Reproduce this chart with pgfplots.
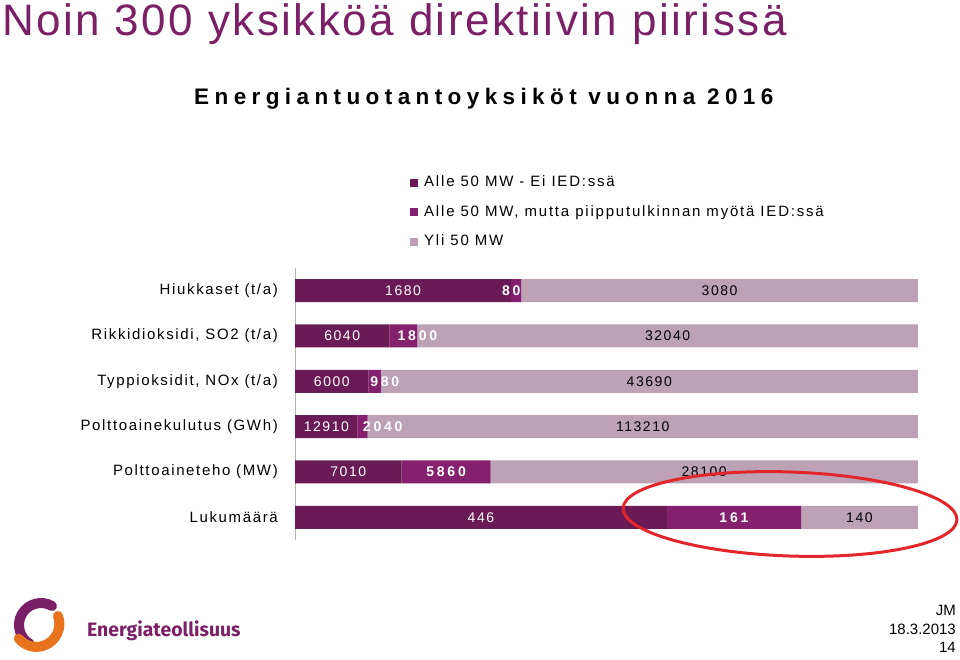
\documentclass[border=0pt]{standalone}
\usepackage{fontspec}
\setmainfont{Liberation Sans}
\newfontfamily\spaced[LetterSpace=11]{Liberation Sans}
\newfontfamily\legfont[LetterSpace=12]{Liberation Sans}
\newfontfamily\boldlab[LetterSpace=20]{Liberation Sans Bold}
\newfontfamily\titlefont[LetterSpace=5.7]{Liberation Sans}
\newfontfamily\subfont[LetterSpace=24]{Liberation Sans Bold}
\newfontfamily\logofont{Fira Sans}
\usepackage{pgfplots}
\pgfplotsset{compat=1.18}
\usepackage{pgfplotstable}

\definecolor{darkplum}{HTML}{6A1A55}
\definecolor{midplum}{HTML}{85206E}
\definecolor{lightplum}{HTML}{BDA2B5}
\definecolor{titleplum}{HTML}{7B1F66}
\definecolor{logoorange}{HTML}{E8731E}
\definecolor{ringred}{HTML}{E3262B}

% y: 0 = Lukumaara (bottom) ... 5 = Hiukkaset (top); dx nudges the middle labels (pt)
\pgfplotstableread{
y a     b    c      dx
0 446   161  140    0
1 7010  5860 28100  0
2 12910 2040 113210 20
3 6000  980  43690  10
4 6040  1800 32040  14
5 1680  80   3080   -5
}\units

\begin{document}
\begin{tikzpicture}[x=1pt,y=1pt]
\path[use as bounding box] (0,0) rectangle (960,660);

% titles
\node[anchor=base west, inner sep=0pt, text=titleplum] at (2,624)
  {\titlefont\fontsize{44}{50}\selectfont Noin 300 yksikköä direktiivin piirissä};
\node[anchor=base west, inner sep=0pt] at (194,555)
  {\subfont\fontsize{22.5}{26}\selectfont Energiantuotantoyksiköt vuonna 2016};

\begin{axis}[
  at={(295pt,120pt)}, anchor=south west,
  scale only axis, width=624pt, height=272pt,
  xbar stacked, bar width=23pt,
  xmin=0, xmax=1.002, ymin=-0.5, ymax=5.5,
  axis x line=none, axis y line*=left,
  y axis line style={draw=gray!60, line width=0.8pt},
  xtick=\empty, ytick={0,...,5},
  yticklabels={Lukumäärä, Polttoaineteho (MW), Polttoainekulutus (GWh),
    {Typpioksidit, NOx (t/a)}, {Rikkidioksidi, SO2 (t/a)}, Hiukkaset (t/a)},
  major tick length=0pt,
  yticklabel style={font=\spaced\fontsize{15}{17}\selectfont, inner sep=0pt, xshift=-17pt},
  point meta=explicit symbolic,
  nodes near coords={\pgfplotspointmeta},
  nodes near coords style={font=\spaced\fontsize{14}{16}\selectfont},
  legend style={draw=none, fill=none, at={(0.1843,1.340)}, anchor=north west,
    font=\legfont\fontsize{15}{17}\selectfont, row sep=15.5pt, inner sep=0pt,
    nodes={inner sep=0pt, text height=11pt, text depth=3pt},
    /tikz/column sep=6pt},
  legend cell align=left,
  legend image code/.code={\fill[#1] (0pt,-4pt) rectangle (8pt,4pt);},
]
\addplot[fill=darkplum, draw=none, nodes near coords style={text=white}]
  table[y=y, x expr={\thisrow{a}/(\thisrow{a}+\thisrow{b}+\thisrow{c})}, meta=a] {\units};
\addplot[fill=midplum, draw=none,
  visualization depends on={\thisrow{dx} \as \dx},
  nodes near coords style={text=white, font=\boldlab\fontsize{14}{16}\selectfont, xshift=\dx pt}]
  table[y=y, x expr={\thisrow{b}/(\thisrow{a}+\thisrow{b}+\thisrow{c})}, meta=b] {\units};
\addplot[fill=lightplum, draw=none, nodes near coords style={text=black}]
  table[y=y, x expr={\thisrow{c}/(\thisrow{a}+\thisrow{b}+\thisrow{c})}, meta=c] {\units};
\legend{Alle 50 MW - Ei IED:ssä, {Alle 50 MW, mutta piipputulkinnan myötä IED:ssä}, Yli 50 MW}
\end{axis}

% highlight ring
\draw[ringred, line width=3pt, rotate around={-2:(790,146)}] (790,146) ellipse [x radius=167, y radius=42];

% logo
\draw[titleplum, line width=10pt, line cap=round] (52,54) arc[start angle=60, end angle=240, radius=22];
\draw[logoorange, line width=10pt, line cap=round] (58,44) arc[start angle=20, end angle=-140, radius=23];
\node[anchor=base west, inner sep=0pt, text=titleplum] at (87,23)
  {\logofont\bfseries\fontsize{19.4}{22}\selectfont Energiateollisuus};

% footer
\node[anchor=north east, align=right, inner sep=0pt, font=\fontsize{15}{18.5}\selectfont] at (956,55)
  {JM\\18.3.2013\\14};
\end{tikzpicture}
\end{document}
